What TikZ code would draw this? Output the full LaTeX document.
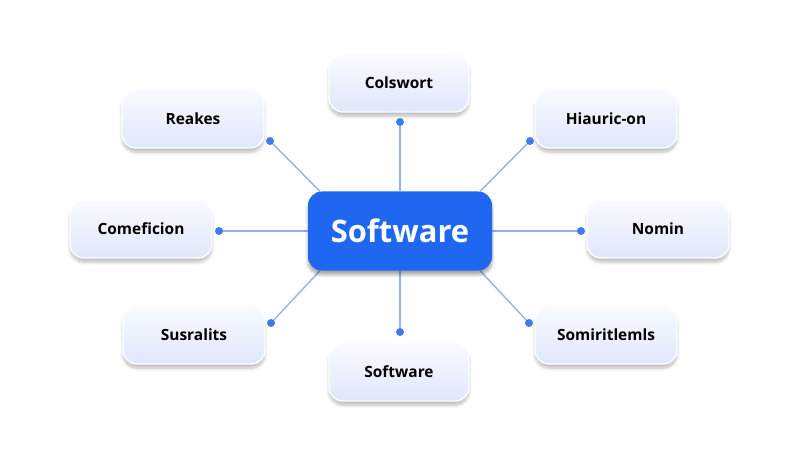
\documentclass[tikz,border=0pt]{standalone}
\usepackage{xcolor}
\usepackage{fontspec}
\setmainfont{Open Sans}
\usepackage{tikz}
\usetikzlibrary{backgrounds}
\usetikzlibrary{shadows.blur}
\definecolor{hubblue}{RGB}{31,102,240}
\definecolor{boxblue}{RGB}{224,231,252}
\definecolor{edgeblue}{RGB}{148,180,238}
\definecolor{dotblue}{RGB}{59,125,237}
\definecolor{shadowblue}{RGB}{150,175,240}

\begin{document}
\begin{tikzpicture}[
		leaf/.style={rounded corners=10pt,
			blur shadow={shadow xshift=0pt, shadow yshift=-3pt, shadow blur steps=8,
				shadow opacity=25, fill=shadowblue},
			draw=white, line width=1pt,
			top color=white!80!boxblue, bottom color=boxblue,
			minimum width=3.55cm, minimum height=1.45cm,
			font=\fontsize{11}{13}\selectfont\bfseries, text=black},
		hub/.style={rounded corners=10pt,
			blur shadow={shadow xshift=0pt, shadow yshift=-3pt, shadow blur steps=8,
				shadow opacity=35, fill=shadowblue},
			fill=hubblue,
			minimum width=4.6cm, minimum height=1.98cm,
			font=\fontsize{22}{26}\selectfont\bfseries, text=white},
		link/.style={draw=edgeblue, line width=1pt},
		pin/.style={fill=dotblue}
	]
	\useasboundingbox (0,0) rectangle (20,11.25);

	\node[hub] (hub) at (10, 5.475) {Software};

	\node[leaf, minimum width=3.5cm] (colswort) at (9.975, 9.175) {Colswort};
	\node[leaf] (reakes) at (4.825, 8.275) {Reakes};
	\node[leaf] (hiauric) at (15.15, 8.275) {Hiauric-on};
	\node[leaf] (comeficion) at (3.525, 5.525) {Comeficion};
	\node[leaf] (nomin) at (16.45, 5.525) {Nomin};
	\node[leaf] (susralits) at (4.85, 2.875) {Susralits};
	\node[leaf, minimum width=3.5cm] (software) at (9.975, 1.95) {Software};
	\node[leaf] (somiritlemls) at (15.15, 2.875) {Somiritlemls};

	% pins just outside the outer boxes
	\coordinate (p-colswort) at (10, 8.2);
	\coordinate (p-reakes) at (6.75, 7.725);
	\coordinate (p-hiauric) at (13.25, 7.725);
	\coordinate (p-comeficion) at (5.475, 5.475);
	\coordinate (p-nomin) at (14.525, 5.475);
	\coordinate (p-susralits) at (6.775, 3.175);
	\coordinate (p-software) at (10, 2.95);
	\coordinate (p-somiritlemls) at (13.225, 3.175);

	\begin{scope}[on background layer]
		\draw[link] (hub.north) -- (p-colswort);
		\draw[link] ([xshift=0.3cm]hub.north west) -- (p-reakes);
		\draw[link] ([xshift=-0.3cm]hub.north east) -- (p-hiauric);
		\draw[link] (hub.west) -- (p-comeficion);
		\draw[link] (hub.east) -- (p-nomin);
		\draw[link] ([xshift=0.3cm]hub.south west) -- (p-susralits);
		\draw[link] (hub.south) -- (p-software);
		\draw[link] ([xshift=-0.3cm]hub.south east) -- (p-somiritlemls);
	\end{scope}

	\foreach \p in {colswort, reakes, hiauric, comeficion, nomin, susralits, software, somiritlemls}
		\fill[pin] (p-\p) circle (0.1);
\end{tikzpicture}
\end{document}
